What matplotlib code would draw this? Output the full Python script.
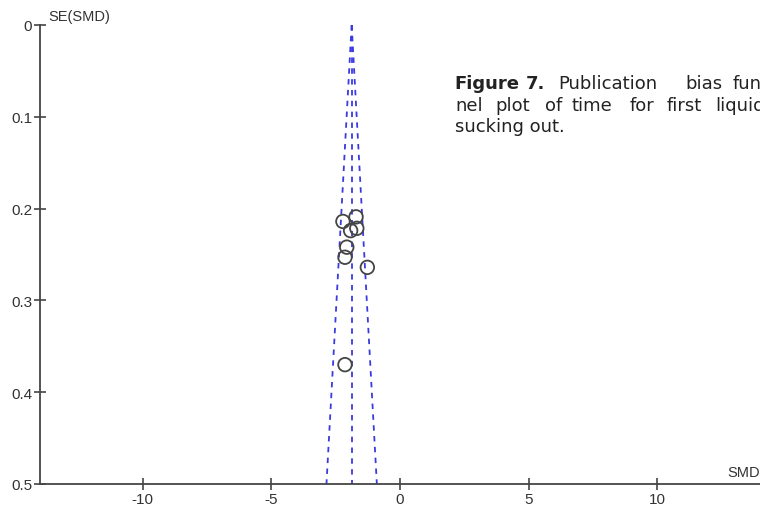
import numpy as np
import matplotlib
matplotlib.use("Agg")
import matplotlib.pyplot as plt

# study estimates
smd = [-2.22, -1.71, -1.92, -1.68, -2.07, -2.14, -1.27, -2.14]
se = [0.214, 0.209, 0.224, 0.2215, 0.242, 0.253, 0.264, 0.370]
pooled = -1.88
se_max = 0.5
xticks = [-10, -5, 0, 5, 10]
yticks = [0, 0.1, 0.2, 0.3, 0.4, 0.5]

plt.rcParams['font.family'] = ['Liberation Sans', 'DejaVu Sans']

fig = plt.figure(figsize=(7.6, 5.1), dpi=100)
ax = fig.add_axes([40/760, 25/510, 720/760, 459/510])

blue = '#3a3ae0'
grey = '#454545'

# funnel lines
s = np.array([0, se_max])
dash = (0, (3, 3))
ax.plot(pooled - 1.96*s, s, ls=dash, color=blue, lw=1.3)
ax.plot(pooled + 1.96*s, s, ls=dash, color=blue, lw=1.3)
ax.plot([pooled, pooled], [0, se_max], ls=dash, color=blue, lw=1.3)

ax.scatter(smd, se, s=95, facecolors='none', edgecolors=grey, linewidths=1.3, zorder=3)

ax.set_xlim(-14, 14)
ax.set_ylim(0.5, 0)
ax.set_xticks(xticks)
ax.set_xticklabels([str(t) for t in xticks])
ax.set_yticks(yticks)
ax.set_yticklabels(['0', '0.1', '0.2', '0.3', '0.4', '0.5'])
for sp in ['top', 'right']:
    ax.spines[sp].set_visible(False)
for sp in ['left', 'bottom']:
    ax.spines[sp].set_color(grey)
    ax.spines[sp].set_linewidth(1.3)
ax.tick_params(direction='inout', length=9, width=1.2, color=grey,
               labelsize=11, labelcolor='#333333', pad=1)

fig.text(48/760, 1 - 21/510, 'SE(SMD)', fontsize=10.5, color='#333333')
fig.text(727/760, 1 - 477/510, 'SMD', fontsize=10.5, color='#333333')

# caption, justified word by word and cut by the image edge like the source
cap = dict(fontsize=13, color='#222222', va='baseline',
           family=['DejaVu Sans'])
lines = [
    (89, [(454, 'Figure', 'bold'), (526, '7.', 'bold'), (558, 'Publication', 'normal'),
          (685, 'bias', 'normal'), (733, 'fun', 'normal')]),
    (111, [(455, 'nel', 'normal'), (495, 'plot', 'normal'), (545, 'of', 'normal'),
           (572, 'time', 'normal'), (630, 'for', 'normal'), (667, 'first', 'normal'),
           (715, 'liquid', 'normal')]),
    (132, [(455, 'sucking out.', 'normal')]),
]
for y, words in lines:
    for x, w, fw in words:
        fig.text(x/760, 1 - y/510, w, fontweight=fw, **cap)

fig.savefig('out.png', dpi=100)
